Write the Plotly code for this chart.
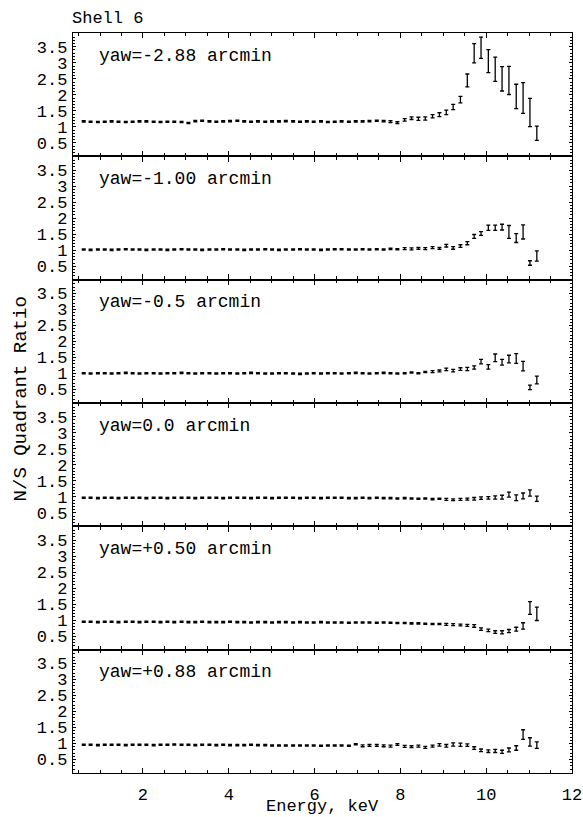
import plotly.graph_objects as go
from plotly.subplots import make_subplots

energy = [0.62, 0.78, 0.95, 1.11, 1.27, 1.43, 1.60, 1.76, 1.92, 2.08,
          2.25, 2.41, 2.57, 2.73, 2.90, 3.06, 3.22, 3.38, 3.55, 3.71,
          3.87, 4.03, 4.20, 4.36, 4.52, 4.68, 4.85, 5.01, 5.17, 5.33,
          5.50, 5.66, 5.82, 5.98, 6.15, 6.31, 6.47, 6.63, 6.80, 6.96,
          7.12, 7.28, 7.45, 7.61, 7.77, 7.93, 8.10, 8.26, 8.42, 8.58,
          8.75, 8.91, 9.07, 9.23, 9.40, 9.56, 9.72, 9.88, 10.05, 10.21,
          10.37, 10.53, 10.70, 10.86, 11.02, 11.18]

yaw_labels = ["yaw=-2.88 arcmin", "yaw=-1.00 arcmin", "yaw=-0.5 arcmin",
              "yaw=0.0 arcmin", "yaw=+0.50 arcmin", "yaw=+0.88 arcmin"]

ratio_m288 = [1.17, 1.16, 1.15, 1.16, 1.17, 1.16, 1.15, 1.16, 1.17, 1.17,
              1.16, 1.15, 1.16, 1.16, 1.15, 1.12, 1.18, 1.19, 1.17, 1.16,
              1.17, 1.18, 1.19, 1.17, 1.16, 1.17, 1.16, 1.17, 1.17, 1.18,
              1.17, 1.16, 1.17, 1.16, 1.17, 1.15, 1.16, 1.17, 1.16, 1.17,
              1.17, 1.18, 1.19, 1.18, 1.16, 1.13, 1.22, 1.27, 1.25, 1.26,
              1.33, 1.38, 1.45, 1.62, 1.85, 2.45, 3.30, 3.47, 3.05, 2.80,
              2.50, 2.45, 1.95, 1.90, 1.45, 0.80]
err_m288 = [0.02] * 44 + [0.03, 0.03, 0.04, 0.04, 0.05, 0.05,
                          0.05, 0.06, 0.07, 0.08, 0.10, 0.20, 0.30, 0.33, 0.36, 0.38,
                          0.38, 0.44, 0.38, 0.48, 0.44, 0.22]

ratio_m100 = [1.02, 1.01, 1.02, 1.02, 1.01, 1.02, 1.03, 1.02, 1.02, 1.01,
              1.02, 1.02, 1.01, 1.02, 1.03, 1.02, 1.02, 1.01, 1.02, 1.02,
              1.03, 1.02, 1.02, 1.01, 1.02, 1.02, 1.03, 1.02, 1.01, 1.02,
              1.02, 1.03, 1.02, 1.02, 1.01, 1.02, 1.03, 1.03, 1.02, 1.02,
              1.03, 1.02, 1.03, 1.02, 1.04, 1.03, 1.05, 1.04, 1.06, 1.05,
              1.08, 1.06, 1.14, 1.07, 1.13, 1.22, 1.43, 1.52, 1.70, 1.70,
              1.72, 1.57, 1.38, 1.57, 0.60, 0.82]
err_m100 = [0.02] * 46 + [0.03, 0.03, 0.03, 0.03,
                          0.03, 0.03, 0.04, 0.04, 0.04, 0.05, 0.06, 0.06, 0.08, 0.08,
                          0.09, 0.20, 0.14, 0.22, 0.07, 0.16]

ratio_m050 = [1.01, 1.00, 1.01, 1.01, 1.00, 1.01, 1.02, 1.01, 1.00, 1.01,
              1.01, 1.00, 1.01, 1.01, 1.02, 1.01, 1.00, 1.01, 1.01, 1.00,
              1.01, 1.01, 1.00, 1.01, 1.02, 1.01, 1.00, 1.00, 1.01, 1.01,
              1.00, 0.99, 1.00, 1.01, 1.00, 1.01, 1.01, 1.00, 1.01, 1.02,
              1.01, 1.00, 1.01, 1.02, 1.01, 1.00, 1.01, 1.03, 1.01, 1.05,
              1.06, 1.08, 1.13, 1.09, 1.14, 1.14, 1.19, 1.37, 1.21, 1.49,
              1.35, 1.45, 1.47, 1.23, 0.57, 0.80]
err_m050 = [0.02] * 50 + [0.03, 0.03, 0.04, 0.04, 0.04, 0.05, 0.05, 0.07, 0.07, 0.12,
                          0.09, 0.12, 0.15, 0.15, 0.07, 0.12]

ratio_000 = [0.97, 0.97, 0.96, 0.97, 0.97, 0.96, 0.97, 0.97, 0.97, 0.96,
             0.97, 0.97, 0.96, 0.97, 0.97, 0.97, 0.96, 0.97, 0.97, 0.97,
             0.96, 0.97, 0.97, 0.97, 0.96, 0.97, 0.97, 0.96, 0.97, 0.97,
             0.97, 0.96, 0.97, 0.97, 0.96, 0.97, 0.97, 0.97, 0.96, 0.96,
             0.97, 0.96, 0.97, 0.96, 0.96, 0.95, 0.96, 0.95, 0.94, 0.95,
             0.93, 0.94, 0.92, 0.91, 0.92, 0.93, 0.94, 0.96, 0.97, 0.98,
             0.99, 1.07, 0.97, 1.03, 1.12, 0.94]
err_000 = [0.02] * 52 + [0.03, 0.03, 0.03, 0.03, 0.04, 0.04, 0.04, 0.05,
                         0.06, 0.08, 0.09, 0.09, 0.10, 0.08]

ratio_p050 = [0.95, 0.95, 0.94, 0.95, 0.95, 0.94, 0.95, 0.95, 0.94, 0.95,
              0.95, 0.94, 0.95, 0.94, 0.95, 0.94, 0.94, 0.95, 0.94, 0.94,
              0.94, 0.95, 0.94, 0.94, 0.93, 0.94, 0.94, 0.93, 0.94, 0.94,
              0.93, 0.94, 0.93, 0.93, 0.94, 0.93, 0.93, 0.93, 0.92, 0.93,
              0.93, 0.93, 0.92, 0.93, 0.92, 0.91, 0.91, 0.90, 0.90, 0.89,
              0.88, 0.88, 0.87, 0.86, 0.85, 0.84, 0.82, 0.72, 0.68, 0.63,
              0.62, 0.66, 0.72, 0.82, 1.38, 1.20]
err_p050 = [0.02] * 52 + [0.03, 0.03, 0.03, 0.03, 0.04, 0.04, 0.04, 0.04,
                          0.05, 0.05, 0.06, 0.10, 0.20, 0.21]

ratio_p088 = [0.96, 0.96, 0.95, 0.96, 0.96, 0.96, 0.95, 0.96, 0.96, 0.96,
              0.95, 0.96, 0.96, 0.97, 0.96, 0.96, 0.95, 0.96, 0.96, 0.95,
              0.96, 0.95, 0.95, 0.95, 0.96, 0.95, 0.95, 0.94, 0.94, 0.94,
              0.94, 0.94, 0.94, 0.94, 0.93, 0.94, 0.94, 0.94, 0.93, 0.98,
              0.93, 0.94, 0.94, 0.93, 0.92, 0.97, 0.91, 0.90, 0.92, 0.88,
              0.92, 0.96, 0.93, 0.97, 0.96, 0.95, 0.86, 0.79, 0.76, 0.77,
              0.74, 0.80, 0.86, 1.28, 1.05, 0.95]
err_p088 = [0.02] * 40 + [0.03] * 10 + [0.03, 0.04, 0.04, 0.05, 0.05, 0.04, 0.04, 0.04, 0.04, 0.05,
                                        0.05, 0.06, 0.07, 0.15, 0.13, 0.10]

y_ticks = [0.5, 1, 1.5, 2, 2.5, 3, 3.5]
y_ticktext = ["0.5", "1", "1.5", "2", "2.5", "3", "3.5"]
x_ticks = [2, 4, 6, 8, 10, 12]

series = [(ratio_m288, err_m288), (ratio_m100, err_m100), (ratio_m050, err_m050),
          (ratio_000, err_000), (ratio_p050, err_p050), (ratio_p088, err_p088)]

FONT = "Liberation Mono, Courier New, monospace"

fig = make_subplots(rows=6, cols=1, shared_xaxes=True, vertical_spacing=0)

for i, (vals, errs) in enumerate(series):
    fig.add_trace(go.Scatter(
        x=energy, y=vals, mode="markers",
        marker=dict(size=3, color="rgba(0,0,0,0)"),
        error_y=dict(type="data", array=errs, visible=True, color="black",
                     thickness=1.3, width=2),
        showlegend=False, hoverinfo="skip"), row=i + 1, col=1)

for i in range(1, 7):
    fig.update_xaxes(
        row=i, col=1, range=[0.37, 12.0], tickvals=x_ticks, automargin=False,
        showline=True, linecolor="black", linewidth=1.4, mirror="ticks",
        ticks="inside", ticklen=5, tickwidth=1.2, tickcolor="black",
        minor=dict(dtick=0.5, tick0=0, ticks="inside", ticklen=3, tickcolor="black", tickwidth=1),
        showgrid=False, zeroline=False,
        tickfont=dict(family=FONT, size=17, color="black"),
        ticklabelstandoff=5,
    )
    fig.update_yaxes(
        row=i, col=1, range=[0.08, 3.93], tickvals=y_ticks, ticktext=y_ticktext,
        automargin=False,
        showline=True, linecolor="black", linewidth=1.4, mirror="ticks",
        ticks="inside", ticklen=3, tickwidth=1, tickcolor="black",
        minor=dict(dtick=0.1, tick0=0, ticks="inside", ticklen=2, tickcolor="black", tickwidth=0.8),
        showgrid=False, zeroline=False,
        tickfont=dict(family=FONT, size=17, color="black"),
        ticklabelstandoff=1,
    )
    fig.add_annotation(
        text=yaw_labels[i - 1], xref=f"x{'' if i == 1 else i} domain",
        yref=f"y{'' if i == 1 else i} domain", x=0.048, y=0.815,
        xanchor="left", yanchor="middle", showarrow=False,
        font=dict(family=FONT, size=18, color="black"))

fig.add_annotation(text="Shell 6", xref="paper", yref="paper", x=0.0, y=1.0,
                   xanchor="left", yanchor="bottom", yshift=3, xshift=-3, showarrow=False,
                   font=dict(family=FONT, size=17, color="black"))
fig.add_annotation(text="N/S Quadrant Ratio", xref="paper", yref="paper",
                   x=-0.104, y=0.505, xanchor="center", yanchor="middle",
                   textangle=-90, showarrow=False,
                   font=dict(family=FONT, size=19, color="black"))
fig.add_annotation(text="Energy, keV", xref="paper", yref="paper",
                   x=0.5, y=-0.0455, xanchor="center", yanchor="middle",
                   showarrow=False, font=dict(family=FONT, size=17, color="black"))

fig.update_layout(
    width=583, height=817,
    margin=dict(l=73, r=11, t=33, b=44),
    paper_bgcolor="white", plot_bgcolor="white",
)

fig.write_html("out.html")
